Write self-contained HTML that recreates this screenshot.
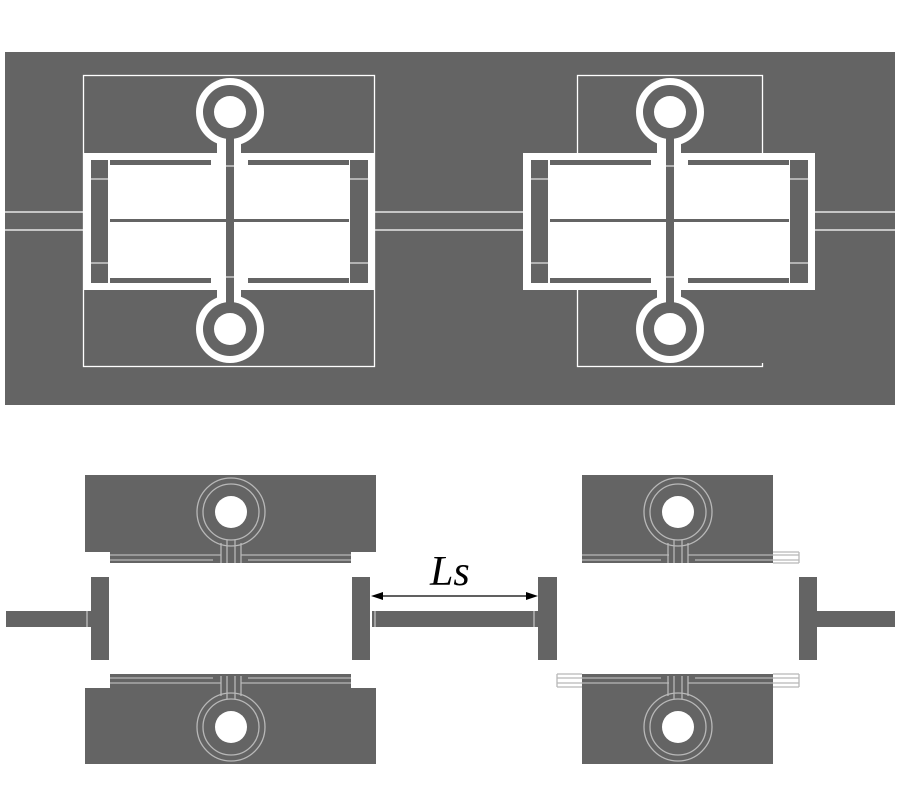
<!DOCTYPE html>
<html><head><meta charset="utf-8"><style>html,body{margin:0;padding:0;background:#fff}svg{display:block}</style></head>
<body>
<svg width="900" height="800" viewBox="0 0 900 800" xmlns="http://www.w3.org/2000/svg">
<defs>
<g id="topcell">
  <rect x="-147" y="153" width="292" height="137" fill="#fff"/>
  <rect x="-139" y="160" width="17" height="123" fill="#646464"/>
  <rect x="120" y="160" width="18" height="123" fill="#646464"/>
  <line x1="-139" y1="179" x2="-122" y2="179" stroke="#fff" stroke-width="1"/>
  <line x1="-139" y1="263" x2="-122" y2="263" stroke="#fff" stroke-width="1"/>
  <line x1="120" y1="179" x2="138" y2="179" stroke="#fff" stroke-width="1"/>
  <line x1="120" y1="263" x2="138" y2="263" stroke="#fff" stroke-width="1"/>
  <rect x="-120" y="160" width="101" height="5" fill="#646464"/>
  <rect x="18" y="160" width="101" height="5" fill="#646464"/>
  <rect x="-120" y="278" width="101" height="5" fill="#646464"/>
  <rect x="18" y="278" width="101" height="5" fill="#646464"/>
  <rect x="-120" y="219" width="239" height="3" fill="#646464"/>
  <rect x="-13" y="130" width="24" height="30" fill="#fff"/>
  <rect x="-13" y="283" width="24" height="30" fill="#fff"/>
  <circle cx="0" cy="112" r="34" fill="#fff"/>
  <circle cx="0" cy="329" r="34" fill="#fff"/>
  <circle cx="0" cy="112" r="27" fill="#646464"/>
  <circle cx="0" cy="329" r="27" fill="#646464"/>
  <circle cx="0" cy="112" r="16" fill="#fff"/>
  <circle cx="0" cy="329" r="16" fill="#fff"/>
  <rect x="-4" y="135" width="8" height="172" fill="#646464"/>
  <line x1="-4" y1="166" x2="4" y2="166" stroke="#fff" stroke-width="1"/>
  <line x1="-4" y1="277" x2="4" y2="277" stroke="#fff" stroke-width="1"/>
</g>
<g id="key">
  <circle cx="0" cy="0" r="16" fill="#fff"/>
  <circle cx="0" cy="0" r="34" fill="none" stroke="#b8b8b8" stroke-width="1.3"/>
  <circle cx="0" cy="0" r="28" fill="none" stroke="#b8b8b8" stroke-width="1.3"/>
  <line x1="-10" y1="31" x2="-10" y2="51" stroke="#b8b8b8" stroke-width="1.3"/>
  <line x1="10" y1="31" x2="10" y2="51" stroke="#b8b8b8" stroke-width="1.3"/>
  <line x1="-4" y1="28" x2="-4" y2="51" stroke="#b8b8b8" stroke-width="1.3"/>
  <line x1="4" y1="28" x2="4" y2="51" stroke="#b8b8b8" stroke-width="1.3"/>
</g>
</defs>
<rect x="0" y="0" width="900" height="800" fill="#fff"/>
<rect x="5" y="52" width="890" height="353" fill="#646464"/>
<g stroke="#fff" stroke-width="1.3">
<line x1="5" y1="212" x2="895" y2="212"/>
<line x1="5" y1="230" x2="895" y2="230"/>
</g>
<rect x="83.5" y="75.5" width="291" height="291" fill="#646464" stroke="#fff" stroke-width="1.3"/>
<use href="#topcell" transform="translate(230,0)"/>
<rect x="577.5" y="75.5" width="185" height="291" fill="#646464" stroke="#fff" stroke-width="1.3"/>
<rect x="761" y="288" width="4" height="75" fill="#646464"/>
<use href="#topcell" transform="translate(670,0)"/>

<rect x="85" y="475" width="291" height="77" fill="#646464"/>
<rect x="110" y="552" width="241" height="11" fill="#646464"/>
<rect x="85" y="688" width="291" height="76" fill="#646464"/>
<rect x="110" y="674" width="241" height="14" fill="#646464"/>
<g stroke="#b8b8b8" stroke-width="1.3">
<line x1="110" y1="555" x2="221" y2="555"/><line x1="241" y1="555" x2="351" y2="555"/>
<line x1="110" y1="560" x2="213" y2="560"/><line x1="248" y1="560" x2="351" y2="560"/>
<line x1="110" y1="678" x2="213" y2="678"/><line x1="248" y1="678" x2="351" y2="678"/>
<line x1="110" y1="683" x2="221" y2="683"/><line x1="241" y1="683" x2="351" y2="683"/>
</g>
<use href="#key" transform="translate(231,512)"/>
<use href="#key" transform="translate(231,727) scale(1,-1)"/>
<rect x="91" y="577" width="18" height="83" fill="#646464"/>
<rect x="352" y="577" width="18" height="83" fill="#646464"/>
<rect x="6" y="611" width="85" height="16" fill="#646464"/>
<rect x="372" y="611" width="166" height="16" fill="#646464"/>
<g stroke="#c8c8c8" stroke-width="1.2">
<line x1="87" y1="611" x2="87" y2="627"/><line x1="375" y1="611" x2="375" y2="627"/><line x1="534" y1="611" x2="534" y2="627"/>
<line x1="821" y1="611" x2="821" y2="627"/>
</g>
<rect x="582" y="475" width="191" height="88" fill="#646464"/>
<rect x="582" y="674" width="191" height="90" fill="#646464"/>
<g stroke="#b8b8b8" stroke-width="1.3">
<line x1="582" y1="555" x2="669" y2="555"/><line x1="688" y1="555" x2="799" y2="555"/>
<line x1="582" y1="560" x2="661" y2="560"/><line x1="695" y1="560" x2="799" y2="560"/>
<line x1="557" y1="678" x2="661" y2="678"/><line x1="695" y1="678" x2="799" y2="678"/>
<line x1="557" y1="683" x2="669" y2="683"/><line x1="688" y1="683" x2="799" y2="683"/>
<line x1="799" y1="552" x2="799" y2="563"/><line x1="557" y1="674" x2="557" y2="687"/><line x1="799" y1="674" x2="799" y2="687"/>
<line x1="773" y1="552" x2="799" y2="552"/><line x1="773" y1="563" x2="799" y2="563"/>
<line x1="557" y1="674" x2="582" y2="674"/><line x1="557" y1="687" x2="582" y2="687"/>
<line x1="773" y1="674" x2="799" y2="674"/><line x1="773" y1="687" x2="799" y2="687"/>
</g>
<use href="#key" transform="translate(678,512)"/>
<use href="#key" transform="translate(678,727) scale(1,-1)"/>
<rect x="538" y="577" width="19" height="83" fill="#646464"/>
<rect x="799" y="577" width="18" height="83" fill="#646464"/>
<rect x="817" y="611" width="78" height="16" fill="#646464"/>
<line x1="376" y1="596" x2="533" y2="596" stroke="#000" stroke-width="1.2"/>
<polygon points="371,596 383,592 383,600" fill="#000"/>
<polygon points="538,596 526,592 526,600" fill="#000"/>
<text x="430" y="585" font-family="Liberation Serif, serif" font-style="italic" font-size="42" fill="#000">Ls</text>
</svg>
</body></html>
